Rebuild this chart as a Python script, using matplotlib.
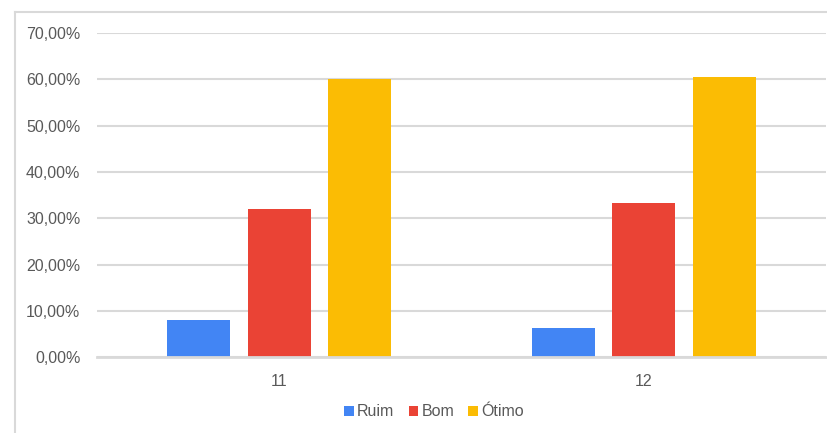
import matplotlib
matplotlib.use("Agg")
import matplotlib.pyplot as plt
import numpy as np
from matplotlib.patches import Patch
from matplotlib.lines import Line2D
from matplotlib.ticker import FuncFormatter

categories = ["11", "12"]
series_names = ["Ruim", "Bom", "Ótimo"]
ruim = [0.08, 0.0625]
bom = [0.32, 0.3333]
otimo = [0.60, 0.6042]
colors = ["#4285F4", "#EA4335", "#FBBC04"]
y_ticks = [0.0, 0.1, 0.2, 0.3, 0.4, 0.5, 0.6, 0.7]

plt.rcParams["font.family"] = ["Liberation Sans", "DejaVu Sans"]
text_color = "#595959"
grid_color = "#d9d9d9"

W, H = 828, 433
fig = plt.figure(figsize=(W / 100, H / 100), dpi=100)

# outer chart frame (left and top edges visible)
fig.add_artist(Line2D([15 / W, 15 / W], [0, 1 - 12 / H], color=grid_color, lw=1.5))
fig.add_artist(Line2D([15 / W, 1], [1 - 12 / H, 1 - 12 / H], color=grid_color, lw=1.5))

left, right, top, bottom = 97, 826, 33, 357.3
ax = fig.add_axes([left / W, 1 - bottom / H, (right - left) / W, (bottom - top) / H])

x = np.arange(len(categories))
bar_w = 0.173
step = 0.221
for i, (name, vals) in enumerate(zip(series_names, [ruim, bom, otimo])):
    ax.bar(x + (i - 1) * step, vals, width=bar_w, color=colors[i], label=name, zorder=3)

ax.set_xlim(-0.5, 1.5)
ax.set_ylim(0, 0.7)
ax.set_yticks(y_ticks)
ax.yaxis.set_major_formatter(FuncFormatter(lambda v, p: f"{v * 100:.2f}%".replace(".", ",")))
ax.set_xticks(x)
ax.set_xticklabels(categories)
ax.grid(axis="y", color=grid_color, lw=1.5, zorder=0)
for s in ["top", "right", "left"]:
    ax.spines[s].set_visible(False)
ax.spines["bottom"].set_color(grid_color)
ax.spines["bottom"].set_linewidth(2)
ax.spines["bottom"].set_zorder(4)
ax.tick_params(axis="both", length=0, labelsize=11.5, colors=text_color)
ax.tick_params(axis="y", pad=12)
ax.tick_params(axis="x", pad=12)

handles = [Patch(facecolor=c, edgecolor="none") for c in colors]
fig.legend(handles, series_names, loc="center", bbox_to_anchor=(434 / W, 1 - 412 / H),
           ncol=3, frameon=False, fontsize=11.5, labelcolor=text_color,
           handlelength=0.6, handleheight=0.6, handletextpad=0.2, columnspacing=0.9)

fig.savefig("out.png", dpi=100, facecolor="white")
